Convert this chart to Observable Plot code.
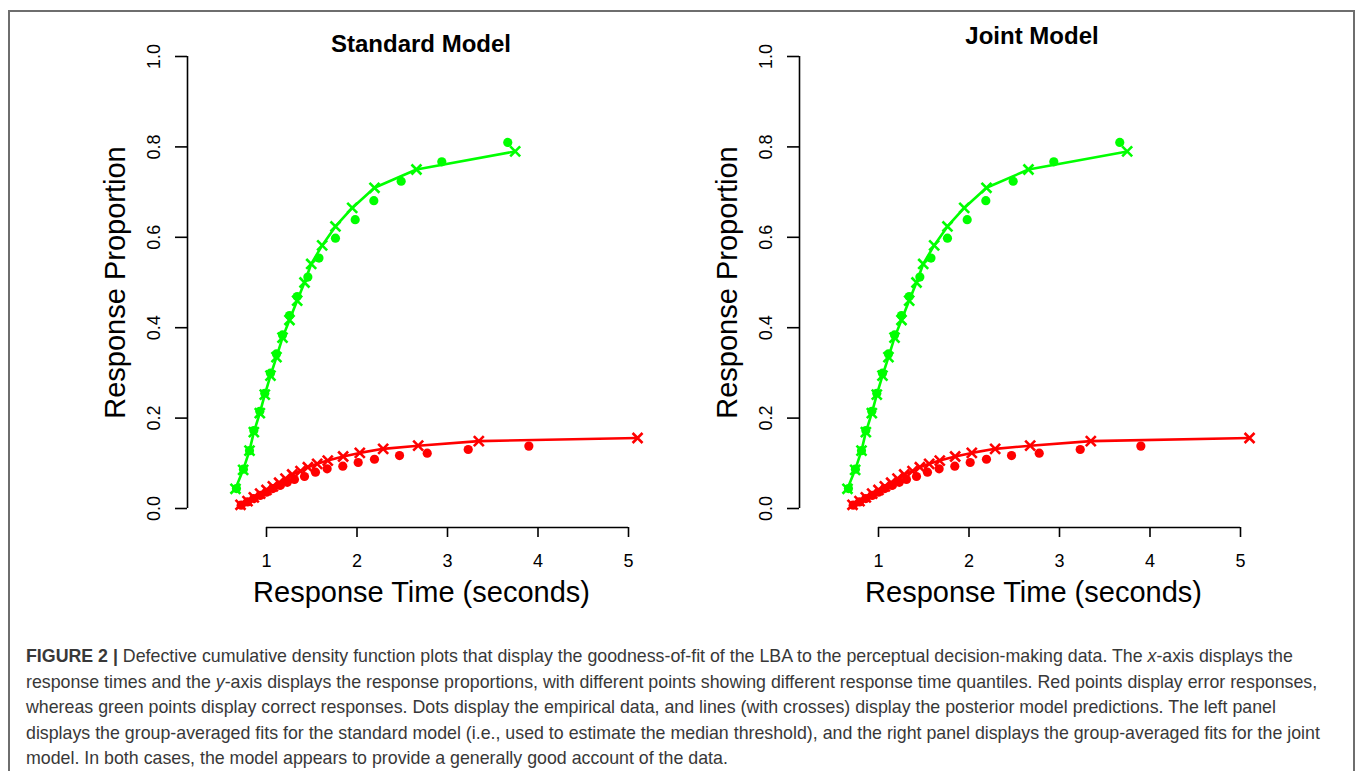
<!DOCTYPE html>
<html><head><meta charset="utf-8">
<script src="https://cdn.jsdelivr.net/npm/d3@7"></script>
<script src="https://cdn.jsdelivr.net/npm/@observablehq/plot@0.6"></script>
<style>
html,body{margin:0;padding:0;background:#fff;}
#fig{position:relative;width:1360px;height:771px;overflow:hidden;font-family:"Liberation Sans",Arial,sans-serif;background:#fff;}
#frame{position:absolute;left:8px;top:10px;width:1347px;height:790px;border:2px solid #6e6e6e;box-sizing:border-box;}
.panel{position:absolute;top:0;}
.title{position:absolute;font-weight:bold;font-size:24px;white-space:nowrap;transform:translateX(-50%);line-height:1;color:#000;}
#caption{position:absolute;left:26px;top:644px;font-size:17.8px;line-height:25.5px;color:#383838;}
#caption div{white-space:nowrap;}
</style></head>
<body><div id="fig">
<div id="frame"></div>
<div id="p1" class="panel" style="left:0px"></div>
<div id="p2" class="panel" style="left:612px"></div>
<div class="title" style="left:421px;top:32px">Standard Model</div>
<div class="title" style="left:1032px;top:24px">Joint Model</div>
<div id="caption">
<div><b>FIGURE 2 |</b> Defective cumulative density function plots that display the goodness-of-fit of the LBA to the perceptual decision-making data. The <i>x</i>-axis displays the</div>
<div>response times and the <i>y</i>-axis displays the response proportions, with different points showing different response time quantiles. Red points display error responses,</div>
<div>whereas green points display correct responses. Dots display the empirical data, and lines (with crosses) display the posterior model predictions. The left panel</div>
<div>displays the group-averaged fits for the standard model (i.e., used to estimate the median threshold), and the right panel displays the group-averaged fits for the joint</div>
<div>model. In both cases, the model appears to provide a generally good account of the data.</div>
</div>
</div>
<script>
const xTicks = [1, 2, 3, 4, 5];
const yTicks = [0, 0.2, 0.4, 0.6, 0.8, 1.0];
const xLabel = "Response Time (seconds)";
const yLabel = "Response Proportion";

// Correct responses (green): model predictions (crosses + line)
const greenModelX = [0.657, 0.742, 0.812, 0.86, 0.926, 0.981, 1.044, 1.11, 1.177, 1.254, 1.339, 1.42, 1.494, 1.615, 1.762, 1.947, 2.193, 2.657, 3.748];
const greenModelY = [0.0436, 0.0855, 0.128, 0.169, 0.211, 0.252, 0.294, 0.335, 0.378, 0.417, 0.46, 0.50, 0.541, 0.582, 0.624, 0.665, 0.7095, 0.75, 0.79];
// Correct responses (green): empirical data (dots)
const greenDataX = [0.668, 0.745, 0.812, 0.86, 0.926, 0.981, 1.044, 1.11, 1.177, 1.254, 1.339, 1.457, 1.58, 1.762, 1.98, 2.186, 2.488, 2.937, 3.666];
const greenDataY = [0.044, 0.087, 0.128, 0.1726, 0.215, 0.255, 0.2994, 0.342, 0.384, 0.427, 0.469, 0.512, 0.554, 0.598, 0.639, 0.681, 0.724, 0.767, 0.81];
// Error responses (red): model predictions
const redModelX = [0.713, 0.79, 0.86, 0.93, 1.00, 1.07, 1.14, 1.21, 1.284, 1.376, 1.457, 1.56, 1.677, 1.847, 2.031, 2.289, 2.676, 3.346, 5.10];
const redModelY = [0.0082, 0.0164, 0.0246, 0.0328, 0.041, 0.049, 0.057, 0.066, 0.0752, 0.0826, 0.0914, 0.0988, 0.106, 0.115, 0.123, 0.132, 0.139, 0.149, 0.156];
// Error responses (red): empirical data
const redDataX = [0.72, 0.79, 0.86, 0.93, 1.00, 1.07, 1.15, 1.23, 1.309, 1.42, 1.541, 1.67, 1.843, 2.013, 2.193, 2.47, 2.776, 3.229, 3.899];
const redDataY = [0.0073, 0.0145, 0.022, 0.029, 0.036, 0.044, 0.051, 0.058, 0.0642, 0.0708, 0.0804, 0.0878, 0.0937, 0.1018, 0.109, 0.117, 0.1224, 0.1305, 0.138];

const GREEN = "#00ff00", RED = "#ff0000";
const zip = (xs, ys) => xs.map((x, i) => ({x, y: ys[i]}));
const greenModel = zip(greenModelX, greenModelY);
const greenData = zip(greenDataX, greenDataY);
const redModel = zip(redModelX, redModelY);
const redData = zip(redDataX, redDataY);

function panel() {
  const insetL = 79;
  return Plot.plot({
    width: 680, height: 620,
    marginLeft: 187, marginRight: 25, marginTop: 56, marginBottom: 93,
    x: {domain: [xTicks[0], xTicks[xTicks.length - 1]], insetLeft: insetL, insetRight: 27},
    y: {domain: [yTicks[0], yTicks[yTicks.length - 1]], insetBottom: 19},
    style: {background: "transparent", fontFamily: "Liberation Sans, Arial, sans-serif", fontSize: "18px", color: "black", overflow: "visible"},
    marks: [
      Plot.ruleY([yTicks[0]], {x1: xTicks[0], x2: xTicks[xTicks.length - 1], dy: 19, stroke: "black", strokeWidth: 1.6}),
      Plot.ruleX([xTicks[0]], {y1: yTicks[0], y2: yTicks[yTicks.length - 1], dx: -insetL, stroke: "black", strokeWidth: 1.6}),
      Plot.axisX({ticks: xTicks, tickSize: 10, tickPadding: 17, fontSize: 18, label: null, strokeWidth: 1.6, tickFormat: d => String(d)}),
      Plot.axisY({ticks: yTicks, tickSize: 12, fill: "none", stroke: "black", label: null, strokeWidth: 1.6}),
      Plot.text(yTicks, {y: d => d, frameAnchor: "left", text: d => d.toFixed(1), rotate: -90, dx: -33, fontSize: 18, textAnchor: "middle", lineAnchor: "middle"}),
      Plot.text([xLabel], {frameAnchor: "bottom", dy: 65, fontSize: 29, textAnchor: "middle", lineAnchor: "middle"}),
      Plot.text([yLabel], {frameAnchor: "left", rotate: -90, dx: -72, dy: -9.5, fontSize: 29, textAnchor: "middle", lineAnchor: "middle"}),
      Plot.line(greenModel, {x: "x", y: "y", stroke: GREEN, strokeWidth: 2.6}),
      Plot.line(redModel, {x: "x", y: "y", stroke: RED, strokeWidth: 2.6}),
      Plot.dot(greenData, {x: "x", y: "y", r: 4.6, fill: GREEN}),
      Plot.dot(redData, {x: "x", y: "y", r: 4.6, fill: RED}),
      Plot.dot(greenModel, {x: "x", y: "y", symbol: "times", r: 4.6, stroke: GREEN, strokeWidth: 2.6}),
      Plot.dot(redModel, {x: "x", y: "y", symbol: "times", r: 4.6, stroke: RED, strokeWidth: 2.6})
    ]
  });
}
document.getElementById("p1").appendChild(panel());
document.getElementById("p2").appendChild(panel());
</script>
</body></html>
